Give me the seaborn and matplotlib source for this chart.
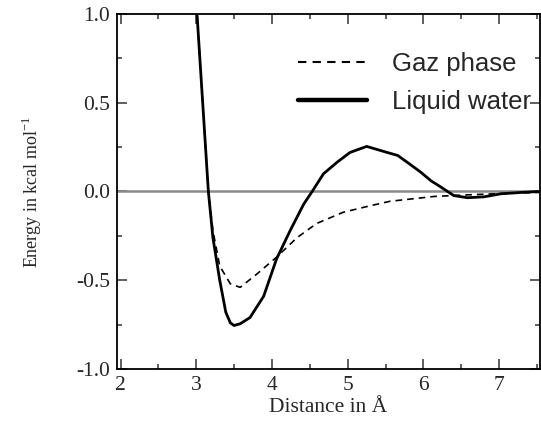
import numpy as np
import pandas as pd
import matplotlib
matplotlib.use('Agg')
import matplotlib.pyplot as plt
import seaborn as sns
from matplotlib.ticker import MultipleLocator

# valeurs
dist_gaz = [3.01, 3.085, 3.16, 3.22, 3.31, 3.45, 3.58, 3.80, 4.06, 4.33, 4.59, 4.94,
            5.30, 5.56, 6.14, 6.58, 7.0, 7.537]
energy_gaz = [1.0, 0.5, 0.0, -0.22, -0.42, -0.52, -0.54, -0.465, -0.37, -0.26, -0.18,
              -0.117, -0.08, -0.055, -0.028, -0.019, -0.012, -0.005]

dist_liq = [3.01, 3.085, 3.16, 3.22, 3.31, 3.39, 3.45, 3.50, 3.58, 3.71, 3.89, 4.06,
            4.24, 4.42, 4.53, 4.68, 4.86, 5.03, 5.25, 5.52, 5.66, 5.80, 5.96, 6.10,
            6.23, 6.40, 6.58, 6.80, 7.02, 7.3, 7.537]
energy_liq = [1.0, 0.5, 0.0, -0.26, -0.50, -0.68, -0.74, -0.755, -0.745, -0.71, -0.59, -0.38,
              -0.22, -0.07, 0.0, 0.10, 0.165, 0.22, 0.254, 0.22, 0.203, 0.16, 0.11, 0.06,
              0.025, -0.023, -0.035, -0.03, -0.013, -0.005, 0.0]

sns.set_style('ticks')
plt.rcParams['font.family'] = ['Liberation Serif', 'DejaVu Serif']

fig = plt.figure(figsize=(5.41, 4.24), dpi=100)
ax = fig.add_axes([0.2163, 0.1297, 0.7817, 0.8373])

ax.axhline(0, color='#8a8a8a', lw=1.8, zorder=1)

sns.lineplot(x=dist_gaz, y=energy_gaz, ax=ax, color='black', lw=1.2,
             linestyle=(0, (4, 3)), label='Gaz phase', sort=False)
sns.lineplot(x=dist_liq, y=energy_liq, ax=ax, color='black', lw=2.0,
             label='Liquid water', sort=False)

ax.set_xlim(1.954, 7.537)
ax.set_ylim(-1.0, 1.0)
ax.xaxis.set_major_locator(MultipleLocator(1))
ax.xaxis.set_minor_locator(MultipleLocator(0.5))
ax.yaxis.set_minor_locator(MultipleLocator(0.25))
ax.set_yticks([-1.0, -0.5, 0.0, 0.5, 1.0])
ax.set_yticklabels(['-1.0', '-0.5', '0.0', '0.5', '1.0'])

ax.tick_params(which='both', direction='in', top=True, right=True,
               color='#333333', width=1.1, labelsize=15.5)
ax.tick_params(axis='x', pad=5)
ax.tick_params(axis='y', pad=5)
ax.tick_params(which='major', length=7)
ax.tick_params(which='minor', length=3.5)
for s in ax.spines.values():
    s.set_linewidth(1.3)
    s.set_color('black')

ax.set_xlabel('Distance in Å', fontsize=15.5, labelpad=2)
ax.set_ylabel('Energy in kcal mol$^{\\mathregular{-1}}$', fontsize=13, labelpad=23)

leg = ax.legend(loc='upper left', bbox_to_anchor=(0.428, 0.892), frameon=False,
                borderpad=0, borderaxespad=0, handlelength=2.7, handletextpad=0.95,
                labelspacing=0.55, prop={'family': 'Liberation Sans', 'size': 18.5})
lines = leg.get_lines()
lines[0].set_linewidth(1.5)
lines[1].set_linewidth(3.2)

fig.savefig('out.png', dpi=100)
